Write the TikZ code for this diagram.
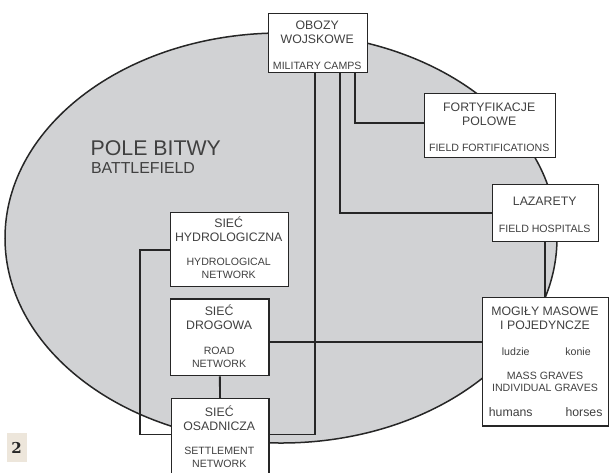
\documentclass[tikz,border=0pt]{standalone}
\usepackage{fontspec}
\setmainfont{Liberation Sans}
\newfontfamily\slabfont{DejaVu Serif}
\usetikzlibrary{positioning,backgrounds}
\definecolor{fieldgray}{HTML}{D1D2D4}
\definecolor{inkgray}{HTML}{404040}
\definecolor{linegray}{HTML}{262626}
\definecolor{tagbeige}{HTML}{EDE6DB}
\newcommand{\plsize}{\fontsize{12.3}{14}\selectfont}
\newcommand{\ensize}{\fontsize{10.6}{12.5}\selectfont}

\begin{document}
\begin{tikzpicture}[x=1pt,y=-1pt,
  box/.style={draw=linegray, line width=1.4pt, fill=white, inner sep=0pt, anchor=north west},
  pl/.style={text=inkgray, font=\plsize, align=center, anchor=base, inner sep=0pt},
  en/.style={text=inkgray, font=\ensize, align=center, anchor=base, inner sep=0pt},
  link/.style={draw=linegray, line width=1.9pt}]
\useasboundingbox (0,0) rectangle (609,472);
\node[box, minimum width=98.5, minimum height=59.5] (obozy) at (268,12.5) {};
\node[box, minimum width=130.5, minimum height=64] (fort) at (424,92.7) {};
\node[box, minimum width=106.5, minimum height=57.5] (lazar) at (491.5,183.5) {};
\node[box, minimum width=118.5, minimum height=74.5] (hydro) at (169.5,211.5) {};
\node[box, minimum width=98.3, minimum height=76.7] (drog) at (170,298.3) {};
\node[box, minimum width=97.7, minimum height=80] (osad) at (170.5,398) {};
\node[box, minimum width=126.3, minimum height=128.5] (mogily) at (481.5,296.8) {};
\begin{scope}[on background layer]
\draw[draw=linegray, line width=1.5pt, fill=fieldgray] (281,238) ellipse (276 and 205);
\draw[link] (obozy.south -| 315,0) |- (osad.east |- 0,434.5);
\draw[link] (obozy.south -| 340,0) |- (lazar.west |- 0,213);
\draw[link] (obozy.south -| 355,0) |- (fort.west |- 0,123);
\draw[link] (drog.east |- 0,342) -- (mogily.west |- 0,342);
\draw[link] (lazar.south -| 545,0) -- (mogily.north -| 545,0);
\draw[link] (hydro.west |- 0,250) -- (140,250) |- (osad.west |- 0,434.5);
\draw[link] (drog.south) -- (osad.north);
\end{scope}
\node[anchor=base west, font=\fontsize{21.3}{24}\selectfont, text=inkgray, inner sep=0pt] (field-pl) at (90.5,155) {POLE BITWY};
\node[anchor=base west, font=\fontsize{15.9}{18}\selectfont, text=inkgray, inner sep=0pt] (field-en) at (90.8,173.3) {BATTLEFIELD};
\node[pl] (obozy-pl) at (317.2,43) {OBOZY\\WOJSKOWE};
\node[en] (obozy-en) at (317.2,69) {MILITARY CAMPS};
\node[pl] (fort-pl) at (489.2,125) {FORTYFIKACJE\\POLOWE};
\node[en] (fort-en) at (489.2,151) {FIELD FORTIFICATIONS};
\node[pl] (lazar-pl) at (544.7,205) {LAZARETY};
\node[en] (lazar-en) at (544.7,232.7) {FIELD HOSPITALS};
\node[pl] (hydro-pl) at (228.7,241.5) {SIEĆ\\HYDROLOGICZNA};
\node[en] (hydro-en) at (228.7,278) {HYDROLOGICAL\\NETWORK};
\node[pl] (drog-pl) at (219.1,329.5) {SIEĆ\\DROGOWA};
\node[en] (drog-en) at (219.1,367) {ROAD\\NETWORK};
\node[pl] (osad-pl) at (219.3,430) {SIEĆ\\OSADNICZA};
\node[en] (osad-en) at (219.3,467.3) {SETTLEMENT\\NETWORK};
\node[pl] (mogily-pl) at (545,329) {MOGIŁY MASOWE\\I POJEDYNCZE};
\node[en] (ludzie) at (515.7,355) {ludzie};
\node[en] (konie) at (578,355) {konie};
\node[en] (mogily-en) at (545,391.7) {MASS GRAVES\\INDIVIDUAL GRAVES};
\node[pl] (humans) at (510.7,416.7) {humans};
\node[pl] (horses) at (584,416.7) {horses};
\node[fill=tagbeige, minimum width=20, minimum height=29, inner sep=0pt, text=linegray, font=\slabfont\bfseries\fontsize{15}{16}\selectfont] (tag) at (16.5,447.5) {2};
\end{tikzpicture}
\end{document}
